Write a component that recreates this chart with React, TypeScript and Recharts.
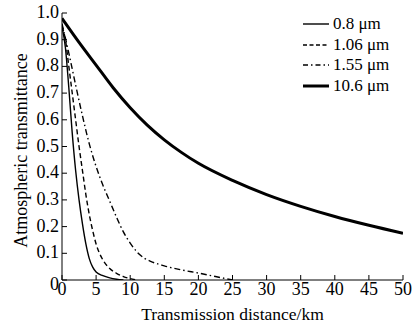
import React from 'react';
import { LineChart, Line, XAxis, YAxis } from 'recharts';

const xTicks = [0, 5, 10, 15, 20, 25, 30, 35, 40, 45, 50];
const yTicks = [0, 0.1, 0.2, 0.3, 0.4, 0.5, 0.6, 0.7, 0.8, 0.9, 1.0];

const dist08 = [0, 0.5, 1, 1.5, 2, 2.5, 3, 3.5, 4, 4.5, 5, 6, 7, 8, 9];
const trans08 = [0.95, 0.87, 0.72, 0.55, 0.41, 0.3, 0.21, 0.135, 0.08, 0.048, 0.03, 0.016, 0.008, 0.003, 0];

const dist106 = [0, 0.5, 1, 1.5, 2, 2.5, 3, 3.5, 4, 4.5, 5, 5.5, 6, 7, 8, 9, 10, 11];
const trans106 = [0.95, 0.9, 0.8, 0.7, 0.6, 0.5, 0.41, 0.32, 0.245, 0.185, 0.135, 0.1, 0.075, 0.043, 0.025, 0.013, 0.005, 0];

const dist155 = [0, 1, 2, 3, 4, 5, 6, 7, 8, 9, 10, 11, 12, 13, 15, 17.5, 20, 22.5, 25];
const trans155 = [0.96, 0.85, 0.73, 0.615, 0.51, 0.425, 0.355, 0.295, 0.235, 0.18, 0.138, 0.105, 0.083, 0.07, 0.053, 0.038, 0.026, 0.013, 0];

const dist106um = [0, 2.5, 5, 7.5, 10, 12.5, 15, 17.5, 20, 25, 30, 35, 40, 45, 50];
const trans106um = [0.98, 0.89, 0.805, 0.72, 0.645, 0.58, 0.525, 0.478, 0.437, 0.373, 0.32, 0.276, 0.238, 0.205, 0.175];

const seriesNames = ['0.8 μm', '1.06 μm', '1.55 μm', '10.6 μm'];

const toRows = (xs: number[], ys: number[]) => xs.map((x, i) => ({ x, y: ys[i] }));

const series = [
  { name: seriesNames[0], data: toRows(dist08, trans08), width: 1.4, dash: undefined as string | undefined, legendDash: undefined as string | undefined },
  { name: seriesNames[1], data: toRows(dist106, trans106), width: 1.4, dash: '5 3', legendDash: '4 2.5' },
  { name: seriesNames[2], data: toRows(dist155, trans155), width: 1.4, dash: '6 3 1.5 3', legendDash: '5 3 1.5 3' },
  { name: seriesNames[3], data: toRows(dist106um, trans106um), width: 3, dash: undefined, legendDash: undefined },
];

const FONT = '"Liberation Serif", "DejaVu Serif", serif';
const TICK_FS = 18;

const XTick = (props: any) => {
  const { x, y, payload } = props;
  return (
    <text x={x} y={y + 20} textAnchor="middle" fontFamily={FONT} fontSize={TICK_FS} fill="#000">
      {String(payload.value)}
    </text>
  );
};

const YTick = (props: any) => {
  const { x, y, payload } = props;
  const v = payload.value as number;
  const label = v === 0 ? '0' : v.toFixed(1);
  return (
    <text x={x} y={y + 5 + (v === 0 ? 5 : 0)} textAnchor="end" fontFamily={FONT} fontSize={TICK_FS} fill="#000">
      {label}
    </text>
  );
};

const LegendBox = () => (
  <div style={{ position: 'absolute', left: 303, top: 14, fontFamily: FONT, fontSize: 17, color: '#000', lineHeight: '20px' }}>
    {series.map((s) => (
      <div key={s.name} style={{ display: 'flex', alignItems: 'center', height: 20.5 }}>
        <svg width={28} height={10} style={{ marginRight: 2 }}>
          <line x1={0} y1={5} x2={26} y2={5} stroke="#000" strokeWidth={s.width} strokeDasharray={s.legendDash} />
        </svg>
        <span>{s.name}</span>
      </div>
    ))}
  </div>
);

export default function App() {
  return (
    <div style={{ position: 'absolute', left: 0, top: 0, width: 413, height: 324, background: '#fff' }}>
      <LineChart width={413} height={324} margin={{ top: 13, right: 10, bottom: 0, left: 0 }}>
        <XAxis
          type="number"
          dataKey="x"
          domain={[0, 50]}
          ticks={xTicks}
          allowDataOverflow
          height={44}
          tickSize={-5}
          tickMargin={0}
          stroke="#000"
          tick={<XTick />}
          axisLine={{ stroke: '#000', strokeWidth: 1 }}
          tickLine={{ stroke: '#000', strokeWidth: 1 }}
          label={{ value: 'Transmission distance/km', position: 'insideBottom', offset: 4, fill: '#000', fontFamily: FONT, fontSize: 17.5 }}
        />
        <YAxis
          type="number"
          domain={[0, 1]}
          ticks={yTicks}
          allowDataOverflow
          width={62}
          tickSize={-5}
          tickMargin={8}
          stroke="#000"
          tick={<YTick />}
          axisLine={{ stroke: '#000', strokeWidth: 1 }}
          tickLine={{ stroke: '#000', strokeWidth: 1 }}
          label={{ value: 'Atmospheric transmittance', angle: -90, position: 'insideLeft', offset: 21, dy: 4, fill: '#000', fontFamily: FONT, fontSize: 18, style: { textAnchor: 'middle' } }}
        />
        {series.map((s) => (
          <Line
            key={s.name}
            name={s.name}
            data={s.data}
            dataKey="y"
            type="monotone"
            stroke="#000"
            strokeWidth={s.width}
            strokeDasharray={s.dash}
            dot={false}
            activeDot={false}
            isAnimationActive={false}
          />
        ))}
      </LineChart>
      <LegendBox />
    </div>
  );
}
